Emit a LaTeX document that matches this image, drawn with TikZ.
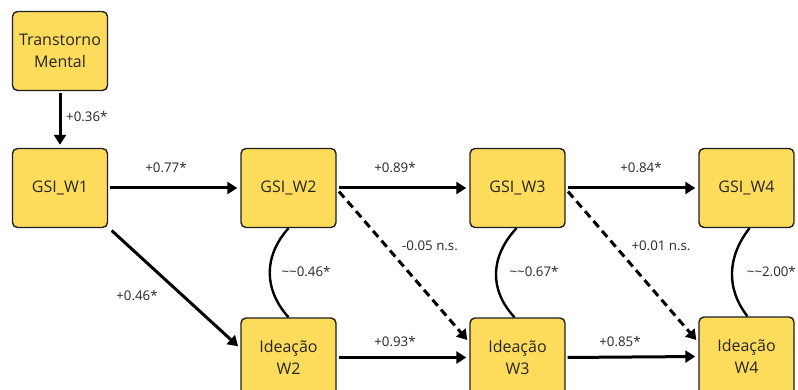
\documentclass[tikz,border=0pt]{standalone}
\usepackage{fontspec}
\setmainfont{Open Sans}
\usetikzlibrary{arrows.meta,calc}
\definecolor{boxfill}{HTML}{FDDC5C}
\definecolor{boxline}{HTML}{1E1E1E}
\definecolor{txt}{HTML}{262626}
\begin{document}
\begin{tikzpicture}[x=1pt,y=-1pt,
  var/.style={draw=boxline,fill=boxfill,line width=1.4pt,rounded corners=5pt,
    minimum width=95pt,minimum height=79pt,inner sep=2pt,align=center,
    text=txt,font=\fontsize{16}{21.5}\selectfont},
  lbl/.style={text=txt,font=\fontsize{13.3}{15}\selectfont,inner sep=1pt},
  path/.style={draw=black,line width=3pt,-{Triangle[length=10pt,width=12pt]},shorten >=3pt,shorten <=2pt},
  nspath/.style={path,dash pattern=on 8pt off 5pt},
  cov/.style={draw=black,line width=2.4pt}]
\useasboundingbox (0,0) rectangle (798,390);
\clip (0,0) rectangle (798,390);

\node[var] (TM) at (60,51) {Transtorno\\Mental};
\node[var] (W1) at (60,188) {GSI\_W1};
\node[var] (G2) at (288.5,188) {GSI\_W2};
\node[var] (G3) at (517.5,188) {GSI\_W3};
\node[var] (G4) at (746.5,188) {GSI\_W4};
\node[var] (I2) at (288.5,357.5) {Ideação\\W2};
\node[var] (I3) at (517.5,357.5) {Ideação\\W3};
\node[var] (I4) at (746.5,356.5) {Ideação\\W4};

% directed paths
\draw[path] (TM.south) -- (W1.north);
\draw[path] (W1.east) -- (G2.west);
\draw[path] (G2.east) -- (G3.west);
\draw[path] (G3.east) -- (G4.west);
\draw[path] (I2.east) -- (I3.west);
\draw[path] (I3.east) -- (I4.west);
\draw[path] ($(W1.south east)+(2,1)$) -- ($(I2.north west)+(0,31)$);
\draw[nspath] ($(G2.east)+(1,2)$) -- ($(I3.north west)+(0,25)$);
\draw[nspath] ($(G3.east)+(1,2)$) -- ($(I4.north west)+(0,26)$);

% covariances
\draw[cov] (G2.south) .. controls +(-25,28) and +(-25,-28) .. (I2.north);
\draw[cov] ($(G3.south)+(-1,0)$) .. controls +(-26,28) and +(-26,-28) .. ($(I3.north)+(-3,0)$);
\draw[cov] ($(G4.south)+(3,0)$) .. controls +(-22,28) and +(-22,-28) .. ($(I4.north)+(1,0)$);

% labels
\node[lbl,anchor=west] (l1) at (65,117) {+0.36*};
\node[lbl] (l2) at (166,168) {+0.77*};
\node[lbl] (l3) at (137,296) {+0.46*};
\node[lbl] (l4) at (395,168) {+0.89*};
\node[lbl] (l5) at (430,246) {-0.05 n.s.};
\node[lbl] (l6) at (306,272) {\textasciitilde\textasciitilde0.46*};
\node[lbl] (l7) at (534,272) {\textasciitilde\textasciitilde0.67*};
\node[lbl] (l8) at (641,168) {+0.84*};
\node[lbl] (l9) at (661,246) {+0.01 n.s.};
\node[lbl,anchor=east] (l10) at (797,272) {\textasciitilde\textasciitilde2.00*};
\node[lbl] (l11) at (395,342) {+0.93*};
\node[lbl] (l12) at (620,342) {+0.85*};
\end{tikzpicture}
\end{document}
